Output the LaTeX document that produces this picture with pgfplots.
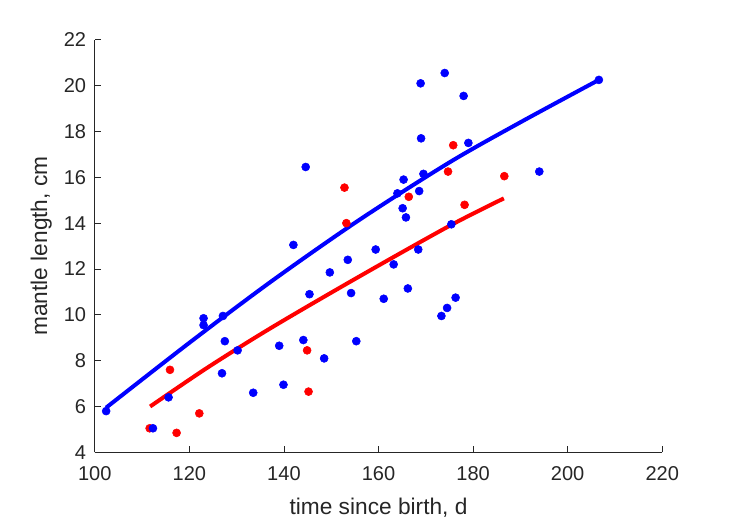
\documentclass[border=0pt]{standalone}
\usepackage{fontspec}
\setmainfont{Liberation Sans}
\usepackage{pgfplots}
\pgfplotsset{compat=1.18}

\definecolor{axgray}{RGB}{38,38,38}

\begin{document}
\begin{tikzpicture}
\begin{axis}[
    name=ax,
    width=425pt, height=309pt, scale only axis,
    xmin=100, xmax=220, ymin=4, ymax=22,
    xtick={100,120,...,220}, ytick={4,6,...,22},
    axis lines*=left,
    axis line style={axgray, line width=0.6pt},
    tick style={axgray, line width=0.6pt},
    tick align=inside, major tick length=4.5pt,
    /pgf/number format/assume math mode=true,
    tick label style={font=\fontsize{15}{17}\selectfont, text=axgray},
    xticklabel style={yshift=-7pt},
    yticklabel style={xshift=-3pt},
    label style={font=\fontsize{17}{19}\selectfont, text=axgray},
    xlabel={time since birth, d},
    ylabel={mantle length, cm},
    xlabel style={yshift=-6pt},
    ylabel style={yshift=2pt},
    clip=false,
]
% red points
\addplot[only marks, mark=*, mark size=3pt, draw=red, fill=red] coordinates {
    (115.9,7.6)(111.6,5.05)(117.3,4.85)(122.1,5.7)(152.8,15.55)(153.2,14.0)
    (166.4,15.15)(174.7,16.25)(178.2,14.8)(144.9,8.45)(145.2,6.65)
    (175.8,17.4)(186.6,16.05)
};
% blue points
\addplot[only marks, mark=*, mark size=3pt, draw=blue, fill=blue] coordinates {
    (102.4,5.8)(112.3,5.05)(115.6,6.4)(123.0,9.85)(123.0,9.55)(127.1,9.95)
    (127.5,8.85)(130.2,8.45)(126.9,7.45)(133.5,6.6)(139.0,8.65)(139.9,6.95)
    (144.6,16.45)(142.0,13.05)(165.3,15.9)(169.5,16.15)(164.0,15.3)(168.6,15.4)
    (165.1,14.65)(165.8,14.25)(175.4,13.95)(159.4,12.85)(168.4,12.85)(153.5,12.4)
    (163.2,12.2)(149.7,11.85)(145.4,10.9)(154.2,10.95)(166.2,11.15)(161.1,10.7)
    (176.3,10.75)(174.5,10.3)(173.3,9.95)(144.1,8.9)(148.5,8.1)(155.3,8.85)
    (168.9,20.1)(174.0,20.55)(178.0,19.55)(169.0,17.7)(179.0,17.5)(194.0,16.25)
    (206.6,20.25)
};
% fitted curves
\addplot[blue, line width=3pt, smooth] coordinates {
    (102.4,5.95)(120,8.78)(137.6,11.5)(156,14.15)(175,16.65)(190,18.4)(206.6,20.25)
};
\addplot[red, line width=3pt, smooth] coordinates {
    (111.7,6.0)(124,7.72)(137.6,9.47)(156,11.68)(175,13.88)(186.5,15.08)
};
\end{axis}
\useasboundingbox ([xshift=-71pt,yshift=-51.75pt]ax.south west) rectangle ([xshift=50pt,yshift=29.8pt]ax.north east);
\end{tikzpicture}
\end{document}
